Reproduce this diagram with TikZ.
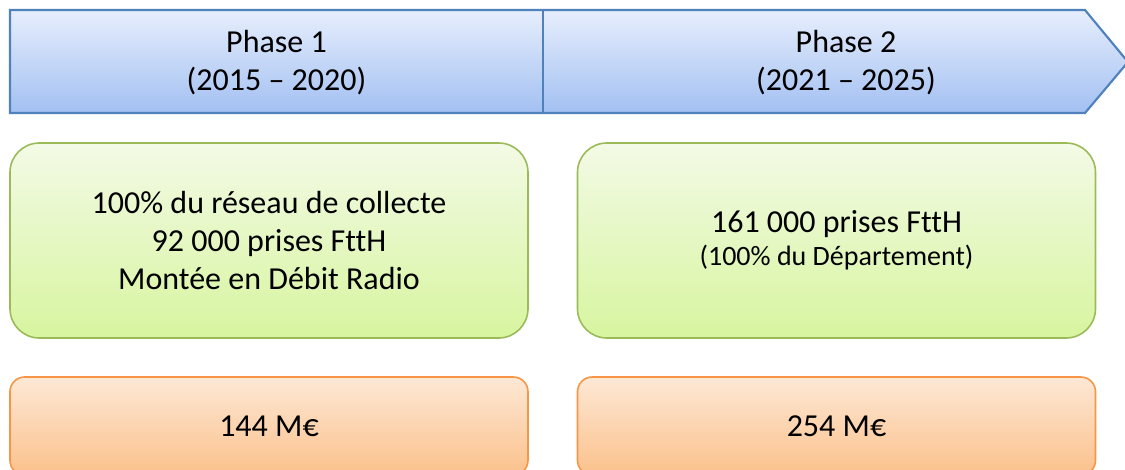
\documentclass[tikz,border=0pt]{standalone}
\usepackage{fontspec}
\setmainfont{Carlito}[Ligatures=NoCommon]
\usetikzlibrary{positioning}
\definecolor{bandborder}{HTML}{4F81BD}
\definecolor{bandtop}{HTML}{E6EEFC}
\definecolor{bandbottom}{HTML}{A3C0F2}
\definecolor{goalborder}{HTML}{9BBB59}
\definecolor{goaltop}{HTML}{F3FAE6}
\definecolor{goalbottom}{HTML}{D7F59F}
\definecolor{costborder}{HTML}{F79646}
\definecolor{costtop}{HTML}{FDE8D5}
\definecolor{costbottom}{HTML}{FBC18B}

\begin{document}
\begin{tikzpicture} [x=0.75pt,y=-0.75pt,
                    phase/.style={align=center,font=\fontsize{24}{28.5}\selectfont},
                    goal/.style={draw=goalborder,line width=1.2pt,rounded corners=22pt,
                        top color=goaltop,bottom color=goalbottom,
                        minimum width=388.5pt,minimum height=146.25pt,
                        align=center,font=\fontsize{24}{28.5}\selectfont},
                    cost/.style={draw=costborder,line width=1.2pt,rounded corners=11pt,
                        top color=costtop,bottom color=costbottom,
                        minimum width=388.5pt,minimum height=73.5pt,
                        font=\fontsize{24}{28.5}\selectfont}]
        \clip (0,0) rectangle (1125,469);
        \useasboundingbox (0,0) rectangle (1125,469);
        \path[draw=bandborder,line width=1.6pt,top color=bandtop,bottom color=bandbottom]
            (10,10) -- (1085,10) -- (1128,62) -- (1085,113) -- (10,113) -- cycle;
        \draw[bandborder,line width=1.2pt] (543,10) -- (543,113);
        \node[phase] (phase1) at (276.5,63) {Phase 1\\(2015 – 2020)};
        \node[phase] (phase2) at (846,63) {Phase 2\\(2021 – 2025)};
        \node[goal] (goal1) at (269,240.5)
            {100\% du réseau de collecte\\92 000 prises FttH\\Montée en Débit Radio};
        \node[goal] (goal2) at (836.5,240.5)
            {161 000 prises FttH\\[-4pt]{\fontsize{21}{25}\selectfont(100\% du Département)}};
        \node[cost] (cost1) at (269,426) {144 M€};
        \node[cost] (cost2) at (836.5,426) {254 M€};
    \end{tikzpicture}
\end{document}
